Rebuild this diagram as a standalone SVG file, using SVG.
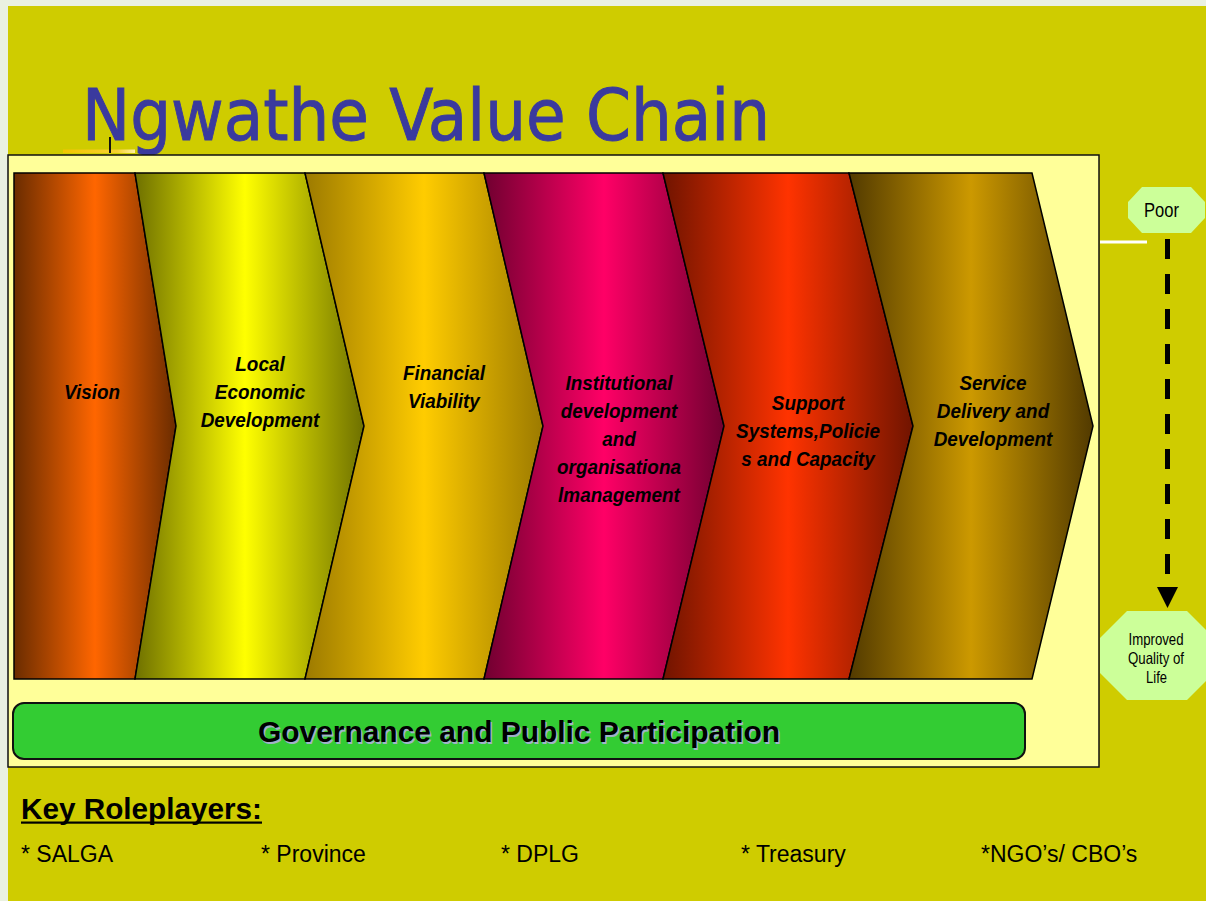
<svg xmlns="http://www.w3.org/2000/svg" width="1206" height="901" viewBox="0 0 1206 901">
  <defs>
    <linearGradient id="gVision" x1="0" y1="0" x2="1" y2="0">
      <stop offset="0" stop-color="#6a2c00"/><stop offset="0.5" stop-color="#ff6600"/><stop offset="1" stop-color="#6a2c00"/>
    </linearGradient>
    <linearGradient id="gLed" x1="0" y1="0" x2="1" y2="0">
      <stop offset="0" stop-color="#6e7000"/><stop offset="0.48" stop-color="#ffff00"/><stop offset="1" stop-color="#6e7000"/>
    </linearGradient>
    <linearGradient id="gFin" x1="0" y1="0" x2="1" y2="0">
      <stop offset="0" stop-color="#9c7a00"/><stop offset="0.5" stop-color="#ffcc00"/><stop offset="1" stop-color="#9c7a00"/>
    </linearGradient>
    <linearGradient id="gInst" x1="0" y1="0" x2="1" y2="0">
      <stop offset="0" stop-color="#700030"/><stop offset="0.5" stop-color="#ff0066"/><stop offset="1" stop-color="#700030"/>
    </linearGradient>
    <linearGradient id="gSup" x1="0" y1="0" x2="1" y2="0">
      <stop offset="0" stop-color="#701400"/><stop offset="0.5" stop-color="#ff3300"/><stop offset="1" stop-color="#701400"/>
    </linearGradient>
    <linearGradient id="gSvc" x1="0" y1="0" x2="1" y2="0">
      <stop offset="0" stop-color="#523a00"/><stop offset="0.5" stop-color="#cc9900"/><stop offset="1" stop-color="#523a00"/>
    </linearGradient>
    <linearGradient id="gRule" x1="0" y1="0" x2="1" y2="0">
      <stop offset="0" stop-color="#f2c400"/><stop offset="0.75" stop-color="#f6d030"/><stop offset="1" stop-color="#fff0a0"/>
    </linearGradient>
  </defs>
  <style>
    .chev { stroke: #000; stroke-width: 1.5; stroke-linejoin: miter; }
    .lbl { font-family: "Liberation Sans", Arial, sans-serif; font-weight: bold; font-style: italic; font-size: 21px; fill: #000; text-anchor: middle; }
    .narrow { font-family: "Liberation Sans Narrow", "Liberation Sans", Arial, sans-serif; fill: #000; text-anchor: middle; }
    .role { font-family: "Liberation Sans", Arial, sans-serif; font-size: 23px; fill: #000; }
    .oct { fill: #ccff99; }
  </style>

  <!-- page -->
  <rect x="0" y="0" width="1206" height="901" fill="#eaf1e1"/>
  <rect x="8" y="6" width="1198" height="895" fill="#cfcc00"/>

  <!-- title -->
  <g id="title">
    <rect x="63" y="149.5" width="72" height="3.5" fill="url(#gRule)"/>
    <rect x="109" y="137" width="2" height="16" fill="#111"/>
    <text x="82" y="140" font-family="DejaVu Sans Condensed, DejaVu Sans, sans-serif" font-size="72" fill="#3a3a9e" stroke="#3a3a9e" stroke-width="0.9" textLength="688" lengthAdjust="spacingAndGlyphs">Ngwathe Value Chain</text>
  </g>

  <!-- background panel -->
  <rect id="panel" x="8" y="155" width="1091" height="612" fill="#ffff99" stroke="#111" stroke-width="1.5"/>

  <!-- value chain stages; labels are drawn slightly condensed -->
  <g id="vision">
    <polygon class="chev" fill="url(#gVision)" points="14,173 135,173 176,426 135,679 14,679"/>
    <text class="lbl" transform="translate(92,399) scale(0.9,1)">Vision</text>
  </g>
  <g id="led">
    <polygon class="chev" fill="url(#gLed)" points="135,173 305,173 364,426 305,679 135,679 176,426"/>
    <text class="lbl" transform="translate(260,371) scale(0.9,1)">Local</text>
    <text class="lbl" transform="translate(260,399) scale(0.9,1)">Economic</text>
    <text class="lbl" transform="translate(260,427) scale(0.9,1)">Development</text>
  </g>
  <g id="financial">
    <polygon class="chev" fill="url(#gFin)" points="305,173 484,173 543,426 484,679 305,679 364,426"/>
    <text class="lbl" transform="translate(444,380) scale(0.9,1)">Financial</text>
    <text class="lbl" transform="translate(444,408) scale(0.9,1)">Viability</text>
  </g>
  <g id="institutional">
    <polygon class="chev" fill="url(#gInst)" points="484,173 663,173 724,426 663,679 484,679 543,426"/>
    <text class="lbl" transform="translate(619,390) scale(0.9,1)">Institutional</text>
    <text class="lbl" transform="translate(619,418) scale(0.9,1)">development</text>
    <text class="lbl" transform="translate(619,446) scale(0.9,1)">and</text>
    <text class="lbl" transform="translate(619,474) scale(0.9,1)">organisationa</text>
    <text class="lbl" transform="translate(619,502) scale(0.9,1)">lmanagement</text>
  </g>
  <g id="support">
    <polygon class="chev" fill="url(#gSup)" points="663,173 849,173 913,426 849,679 663,679 724,426"/>
    <text class="lbl" transform="translate(808,410) scale(0.9,1)">Support</text>
    <text class="lbl" transform="translate(808,438) scale(0.9,1)">Systems,Policie</text>
    <text class="lbl" transform="translate(808,466) scale(0.9,1)">s and Capacity</text>
  </g>
  <g id="service">
    <polygon class="chev" fill="url(#gSvc)" points="849,173 1032,173 1093,426 1032,679 849,679 913,426"/>
    <text class="lbl" transform="translate(993,390) scale(0.9,1)">Service</text>
    <text class="lbl" transform="translate(993,418) scale(0.9,1)">Delivery and</text>
    <text class="lbl" transform="translate(993,446) scale(0.9,1)">Development</text>
  </g>

  <!-- governance bar -->
  <g id="governance">
    <rect x="13" y="703" width="1012" height="56" rx="11" ry="11" fill="#33cc33" stroke="#111" stroke-width="2"/>
    <text x="520.5" y="743.5" font-family="Liberation Sans, Arial, sans-serif" font-weight="bold" font-size="29" fill="#9fb3c8" text-anchor="middle" textLength="522" lengthAdjust="spacingAndGlyphs">Governance and Public Participation</text>
    <text x="519" y="742" font-family="Liberation Sans, Arial, sans-serif" font-weight="bold" font-size="29" fill="#000" text-anchor="middle" textLength="522" lengthAdjust="spacingAndGlyphs">Governance and Public Participation</text>
  </g>

  <!-- outcome scale -->
  <g id="poor">
    <polygon class="oct" points="1142,187 1191,187 1205,202 1205,218 1191,233 1142,233 1128,218 1128,202"/>
    <text class="narrow" x="1161.5" y="217" font-size="20" textLength="35" lengthAdjust="spacingAndGlyphs">Poor</text>
  </g>
  <g id="improved">
    <polygon class="oct" points="1127,611 1187,611 1214,638 1214,673 1187,700 1127,700 1100,673 1100,638"/>
    <text class="narrow" x="1156" y="645" font-size="16.5" textLength="55" lengthAdjust="spacingAndGlyphs">Improved</text>
    <text class="narrow" x="1156" y="664" font-size="16.5" textLength="56" lengthAdjust="spacingAndGlyphs">Quality of</text>
    <text class="narrow" x="1156.5" y="683" font-size="16.5" textLength="21" lengthAdjust="spacingAndGlyphs">Life</text>
  </g>
  <g id="connectors">
    <line x1="1100" y1="242" x2="1147" y2="242" stroke="#ffffff" stroke-width="3"/>
    <line x1="1167.5" y1="239" x2="1167.5" y2="586" stroke="#000" stroke-width="5" stroke-dasharray="20 15"/>
    <polygon points="1157,587 1178,587 1167.5,608" fill="#000"/>
  </g>

  <!-- key roleplayers -->
  <g id="roleplayers">
    <text x="21" y="819" font-family="Liberation Sans, Arial, sans-serif" font-weight="bold" font-size="29" fill="#000" textLength="241" lengthAdjust="spacingAndGlyphs">Key Roleplayers:</text>
    <rect x="21" y="821.5" width="241" height="2.2" fill="#000"/>
    <text class="role" x="21" y="862">* SALGA</text>
    <text class="role" x="261" y="862">* Province</text>
    <text class="role" x="501" y="862">* DPLG</text>
    <text class="role" x="741" y="862">* Treasury</text>
    <text class="role" x="981" y="862">*NGO’s/ CBO’s</text>
  </g>
</svg>
